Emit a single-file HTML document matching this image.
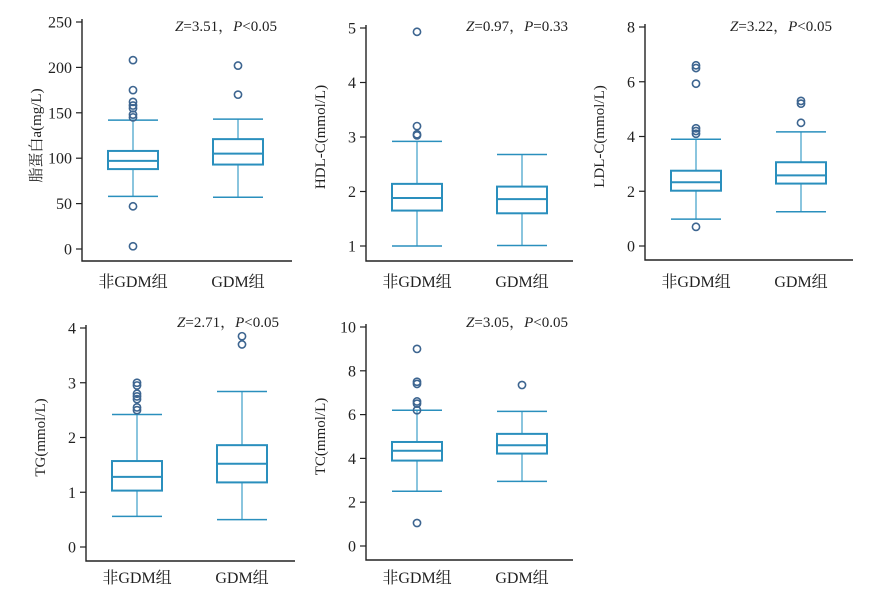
<!DOCTYPE html>
<html><head><meta charset="utf-8"><style>
html,body{margin:0;padding:0;background:#fff;width:882px;height:589px;overflow:hidden}
svg{display:block}
text{font-family:"Liberation Serif","Noto Serif CJK SC",serif;fill:#222}
</style></head><body>
<svg id="c" width="882" height="589" viewBox="0 0 882 589"></svg>
<script>
const categories = ["非GDM组", "GDM组"];
const titles = ["脂蛋白a(mg/L)", "HDL-C(mmol/L)", "LDL-C(mmol/L)", "TG(mmol/L)", "TC(mmol/L)"];
const statsZ = ["3.51", "0.97", "3.22", "2.71", "3.05"];
const statsP = ["<0.05", "=0.33", "<0.05", "<0.05", "<0.05"];
const yTicks = [[0,50,100,150,200,250],[1,2,3,4,5],[0,2,4,6,8],[0,1,2,3,4],[0,2,4,6,8,10]];
// [min, q1, median, q3, max] per group
const lpaBoxes = [[58,88,97,108,142],[57,93,105,121,143]];
const hdlBoxes = [[1.0,1.65,1.88,2.14,2.92],[1.01,1.6,1.86,2.09,2.68]];
const ldlBoxes = [[0.98,2.02,2.33,2.75,3.9],[1.25,2.28,2.58,3.06,4.17]];
const tgBoxes = [[0.56,1.03,1.28,1.57,2.42],[0.5,1.18,1.52,1.86,2.84]];
const tcBoxes = [[2.5,3.9,4.35,4.75,6.2],[2.95,4.22,4.6,5.12,6.15]];
const lpaOut = [[208,175,162,158,155,148,145,47,3],[202,170]];
const hdlOut = [[4.93,3.2,3.05,3.03],[]];
const ldlOut = [[6.6,6.5,5.93,4.3,4.2,4.1,0.7],[5.3,5.2,4.5]];
const tgOut = [[3.0,2.95,2.8,2.75,2.7,2.55,2.5],[3.85,3.7]];
const tcOut = [[9.0,7.5,7.4,6.6,6.5,6.2,1.05],[7.35]];
const boxes = [lpaBoxes, hdlBoxes, ldlBoxes, tgBoxes, tcBoxes];
const outliers = [lpaOut, hdlOut, ldlOut, tgOut, tcOut];

// layout: axis x, top tick y, bottom tick y, axis bottom, right end, group centers, label y, stat text end x, stat y
const layout = [
 {ax:82, yt:22, yb:249, bot:261, right:292, cx:[133,238], ly:287, sx:277, sy:31},
 {ax:366, yt:28, yb:246, bot:261, right:573, cx:[417,522], ly:287, sx:568, sy:31},
 {ax:645, yt:27, yb:246, bot:260, right:853, cx:[696,801], ly:287, sx:832, sy:31},
 {ax:86, yt:328, yb:547, bot:561, right:295, cx:[137,242], ly:583, sx:279, sy:327},
 {ax:366, yt:327, yb:546, bot:560, right:573, cx:[417,522], ly:583, sx:568, sy:327}
];
const NS = "http://www.w3.org/2000/svg";
const svg = document.getElementById("c");
function mk(tag, attrs, parent){
  const e = document.createElementNS(NS, tag);
  for (const k in attrs) e.setAttribute(k, attrs[k]);
  (parent||svg).appendChild(e); return e;
}
const boxCol = "#2a8fbd", whCol = "#4aa6cc", outCol = "#3d6590";
for (let p = 0; p < 5; p++) {
  const L = layout[p], ticks = yTicks[p];
  const t0 = ticks[0], t1 = ticks[ticks.length-1];
  const y = v => L.yb - (v - t0) / (t1 - t0) * (L.yb - L.yt);
  const g = mk("g", {});
  
  
  const ax = mk("path", {d:`M${L.ax},${L.yt-3}V${L.bot}H${L.right}`, fill:"none", stroke:"#222", "stroke-width":1.4}, g);
  
  
  ticks.forEach(tv => {
    const ty = y(tv);
    mk("line", {x1:L.ax-6, x2:L.ax, y1:ty, y2:ty, stroke:"#222", "stroke-width":1.2}, g);
    const t = mk("text", {x:L.ax-10, y:ty+5.5, "text-anchor":"end", "font-size":16}, g);
    t.textContent = tv;
    
    
  });
  const yl = mk("text", {x:0, y:0, "text-anchor":"middle", "font-size":15,
    transform:`translate(${L.ax-41},${(L.yt+L.yb)/2}) rotate(-90)`}, g);
  yl.textContent = titles[p];
  
  
  const st = mk("text", {x:L.sx, y:L.sy, "text-anchor":"end", "font-size":15}, g);
  st.innerHTML = `<tspan font-style="italic">Z</tspan>=${statsZ[p]}，<tspan font-style="italic">P</tspan>${statsP[p].replace('<','&lt;')}`;
  
  
  for (let gi = 0; gi < 2; gi++) {
    const b = boxes[p][gi], cx = L.cx[gi], hw = 25, cw = 25;
    const bg = mk("g", {}, g);
    
    
    mk("line", {x1:cx, x2:cx, y1:y(b[0]), y2:y(b[1]), stroke:whCol, "stroke-width":1.3}, bg);
    mk("line", {x1:cx, x2:cx, y1:y(b[3]), y2:y(b[4]), stroke:whCol, "stroke-width":1.3}, bg);
    mk("line", {x1:cx-cw, x2:cx+cw, y1:y(b[0]), y2:y(b[0]), stroke:boxCol, "stroke-width":1.5}, bg);
    mk("line", {x1:cx-cw, x2:cx+cw, y1:y(b[4]), y2:y(b[4]), stroke:boxCol, "stroke-width":1.5}, bg);
    mk("rect", {x:cx-hw, y:y(b[3]), width:hw*2, height:y(b[1])-y(b[3]), fill:"none", stroke:boxCol, "stroke-width":2}, bg);
    mk("line", {x1:cx-hw, x2:cx+hw, y1:y(b[2]), y2:y(b[2]), stroke:boxCol, "stroke-width":2}, bg);
    outliers[p][gi].forEach(v => {
      const c = mk("circle", {cx:cx, cy:y(v), r:3.6, fill:"none", stroke:outCol, "stroke-width":1.6}, bg);
      
      
    });
    const cl = mk("text", {x:cx, y:L.ly, "text-anchor":"middle", "font-size":16}, g);
    cl.textContent = categories[gi];
    
    
  }
}
</script>
</body></html>
